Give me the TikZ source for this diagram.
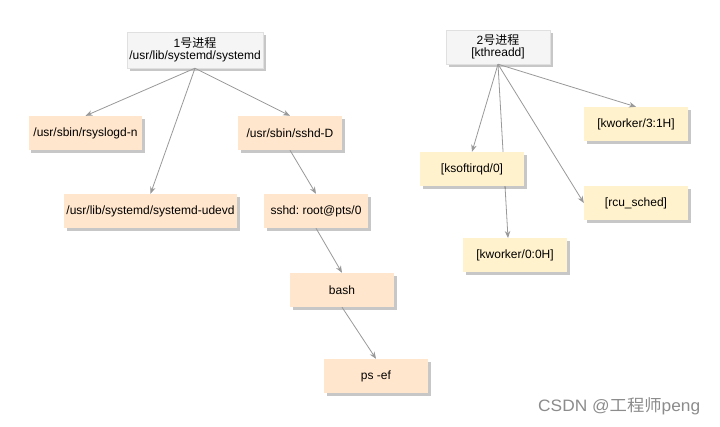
\documentclass[tikz,border=0pt]{standalone}
\usepackage{fontspec}
\setmainfont{Liberation Sans}
\newfontfamily\cjk{Noto Sans CJK SC}
\usetikzlibrary{arrows.meta,shadows}
\frenchspacing
\definecolor{orangebox}{HTML}{FFE6CC}
\definecolor{yellowbox}{HTML}{FFF2CC}
\definecolor{graybox}{HTML}{F5F5F5}
\definecolor{edgegray}{HTML}{999999}
\definecolor{wmgray}{HTML}{8C8C8C}
\tikzset{
  box/.style={minimum width=104bp, minimum height=34bp, inner sep=2bp,
    font=\fontsize{12bp}{14bp}\selectfont, text=black,
    drop shadow={shadow xshift=2.5bp, shadow yshift=-2.5bp, fill=black, opacity=0.22}},
  obox/.style={box, fill=orangebox},
  ybox/.style={box, fill=yellowbox},
  gbox/.style={box, fill=graybox, draw=black!12, align=center},
  link/.style={draw=edgegray, line width=0.8bp, -{Stealth[length=7bp,width=5.5bp]}}
}
\begin{document}
\begin{tikzpicture}[x=1bp,y=-1bp]
\useasboundingbox[fill=white] (0,0) rectangle (720,426);
\node[gbox, minimum width=136bp, minimum height=36bp] (n1) at (195,50)
  {1{\cjk 号进程}\\[-2bp]/usr/lib/systemd/systemd};
\node[gbox, minimum width=104bp, minimum height=34bp] (n2) at (498,47)
  {2{\cjk 号进程}\\[-2bp][kthreadd]};
% this connector passes behind [ksoftirqd/0], so it is drawn before that node
\coordinate (kw00tip) at (508,238);
\draw[link] (n2.south) -- (kw00tip);
\node[obox, minimum width=113bp] (rsys) at (85.5,133) {/usr/sbin/rsyslogd-n};
\node[obox] (sshdD) at (290,133) {/usr/sbin/sshd-D};
\node[obox, minimum width=173bp] (udevd) at (150.5,211) {/usr/lib/systemd/systemd-udevd};
\node[obox] (sshdr) at (316,211) {sshd: root@pts/0};
\node[obox] (bash) at (342,290) {bash};
\node[obox] (ps) at (376,376) {ps -ef};
\node[ybox] (kw31) at (636,124) {[kworker/3:1H]};
\node[ybox] (ksoft) at (472,169) {[ksoftirqd/0]};
\node[ybox] (rcu) at (636,203) {[rcu\_sched]};
\node[ybox] (kw00) at (515,255) {[kworker/0:0H]};
\draw[link] (n1.south) -- (rsys.north);
\draw[link] (n1.south) -- (udevd.north);
\draw[link] (n1.south) -- (sshdD.north);
\draw[link] (sshdD.south) -- (sshdr.north);
\draw[link] (sshdr.south) -- (bash.north);
\draw[link] (bash.south) -- (ps.north);
\draw[link] (n2.south) -- (ksoft.north);
\draw[link] (n2.south) -- (rcu.west);
\draw[link] (n2.south) -- (kw31.north);
\node[text=wmgray, font=\fontsize{16.5bp}{19bp}\selectfont, anchor=west, xscale=1.05, inner sep=0pt] (wm) at (538,406) {CSDN @{\cjk 工程师}peng};
\end{tikzpicture}
\end{document}
